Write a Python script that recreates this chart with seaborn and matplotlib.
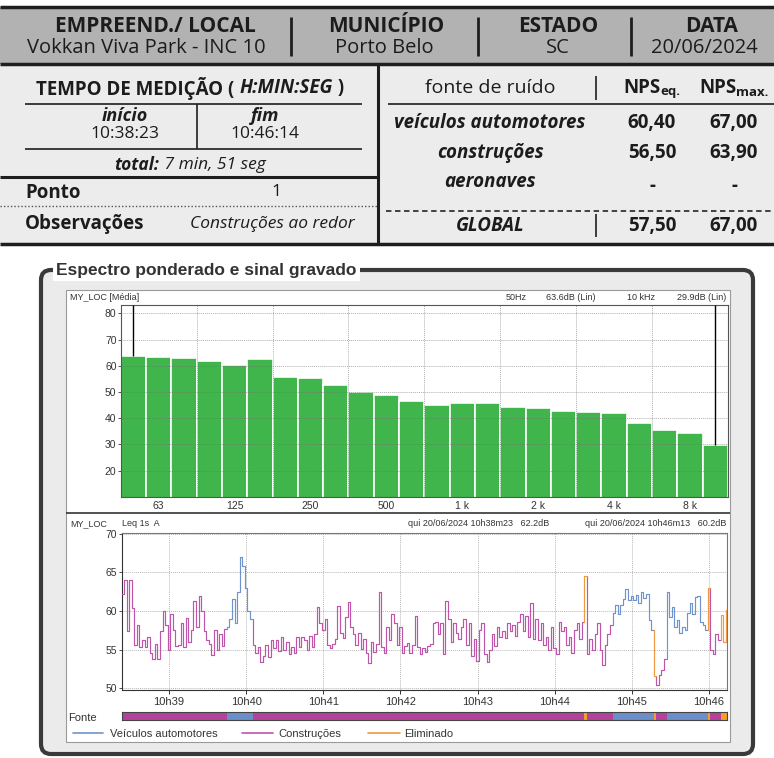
import numpy as np
import pandas as pd
import matplotlib
matplotlib.use("Agg")
import matplotlib.pyplot as plt
import seaborn as sns
from matplotlib.patches import Rectangle, FancyBboxPatch
from matplotlib.lines import Line2D

# ---------------- report table ----------------
header_titles = ["EMPREEND./ LOCAL", "MUNICÍPIO", "ESTADO", "DATA"]
header_values = ["Vokkan Viva Park - INC 10", "Porto Belo", "SC", "20/06/2024"]
start_time = "10:38:23"
end_time = "10:46:14"
point_id = "1"
observations = "Construções ao redor"
noise_sources = ["veículos automotores", "construções", "aeronaves"]
nps_eq = ["60,40", "56,50", "-"]
nps_max = ["67,00", "63,90", "-"]
global_eq = "57,50"
global_max = "67,00"

# ---------------- 1/3 octave spectrum ----------------
band_labels = ["50", "63", "80", "100", "125", "160", "200", "250", "315", "400",
               "500", "630", "800", "1 k", "1.25 k", "1.6 k", "2 k", "2.5 k",
               "3.15 k", "4 k", "5 k", "6.3 k", "8 k", "10 k"]
band_levels = [63.6, 63.4, 62.9, 61.9, 60.2, 62.5, 55.8, 55.4, 52.7, 49.8,
               48.7, 46.7, 45.0, 45.8, 45.8, 44.4, 44.0, 42.6, 42.2, 41.8,
               38.1, 35.5, 34.2, 29.9]
band_tick_labels = ["63", "125", "250", "500", "1 k", "2 k", "4 k", "8 k"]

# ---------------- Leq time history (2 s steps from 10h38m23) ----------------
leq_step = 2
leq_levels = [
    62.2, 64.0, 57.4, 64.0, 60.4, 55.6, 58.2, 55.4, 56.2, 55.3,
    56.6, 54.6, 53.8, 55.8, 53.8, 57.4, 60.0, 58.2, 55.0, 59.6,
    57.6, 55.5, 55.6, 58.5, 55.4, 59.1, 56.0, 57.6, 61.3, 58.0,
    61.9, 60.0, 57.4, 56.2, 55.8, 54.3, 57.6, 55.0, 57.0, 55.5,
    57.7, 58.0, 59.0, 61.5, 58.5, 62.5, 67.0, 65.8, 63.0, 60.0,
    59.0, 55.6, 54.6, 55.4, 53.4, 54.2, 55.6, 54.0, 56.3, 55.2,
    56.3, 54.8, 56.6, 55.0, 56.0, 54.5, 55.4, 54.6, 56.6, 55.3,
    56.6, 56.2, 55.0, 56.8, 55.4, 57.0, 60.5, 58.5, 57.6, 59.0,
    55.6, 55.2, 55.8, 56.4, 60.6, 57.2, 56.5, 59.2, 61.2, 58.0,
    57.0, 55.6, 57.2, 55.1, 56.4, 54.6, 53.3, 56.0, 54.7, 55.8,
    62.4, 55.4, 54.6, 58.0, 56.2, 59.6, 58.5, 55.6, 58.0, 54.6,
    55.5, 55.9, 54.6, 55.6, 59.3, 55.4, 54.4, 55.2, 54.7, 55.5,
    55.8, 58.4, 58.6, 57.0, 58.4, 54.5, 61.3, 59.0, 56.0, 58.5,
    57.2, 56.4, 58.0, 59.0, 55.6, 58.4, 54.2, 56.4, 53.5, 57.5,
    58.5, 54.4, 53.4, 55.0, 57.0, 55.5, 58.0, 56.6, 57.4, 56.5,
    58.5, 57.4, 58.2, 56.8, 58.6, 59.6, 57.4, 59.4, 56.6, 61.0,
    56.4, 59.0, 56.2, 58.4, 55.6, 56.6, 55.0, 58.0, 55.2, 54.5,
    58.6, 57.4, 58.0, 55.6, 56.6, 54.6, 57.6, 58.5, 56.4, 58.6,
    64.5, 54.4, 56.4, 55.0, 57.0, 58.4, 55.0, 53.0, 55.6, 57.0,
    58.2, 59.8, 60.8, 59.6, 60.8, 61.6, 62.9, 61.4, 62.0, 61.4,
    62.1, 61.0, 62.4, 61.7, 62.2, 58.8, 57.6, 51.6, 50.5, 51.8,
    52.4, 53.8, 62.4, 59.2, 60.5, 58.0, 58.8, 57.2, 58.0, 57.6,
    59.8, 61.0, 59.6, 61.8, 62.0, 58.6, 58.2, 57.6, 63.0, 55.0,
    54.4, 57.0, 56.2, 59.5, 56.0, 60.2,
]
leq_duration = 471
# source attributed to each stretch of the record (seconds from start)
source_spans = [
    (0, 82, "Construções"), (82, 102, "Veículos automotores"),
    (102, 360, "Construções"), (360, 362, "Eliminado"),
    (362, 382, "Construções"), (382, 414, "Veículos automotores"),
    (414, 416, "Eliminado"), (416, 424, "Construções"),
    (424, 456, "Veículos automotores"), (456, 458, "Eliminado"),
    (458, 466, "Construções"), (466, 471, "Eliminado"),
]
source_names = ["Veículos automotores", "Construções", "Eliminado"]
source_colors = {"Veículos automotores": "#6f93cc",
                 "Construções": "#bf55aa",
                 "Eliminado": "#ee9a3e"}
bar_colors = {"Veículos automotores": "#6c8fc9",
              "Construções": "#b5429a",
              "Eliminado": "#f29e28"}
time_ticks = ["10h39", "10h40", "10h41", "10h42", "10h43", "10h44", "10h45", "10h46"]

TABLE_FONT = ["Open Sans", "DejaVu Sans"]
CHART_FONT = ["Liberation Sans", "DejaVu Sans"]

sns.set_theme(style="white")
plt.rcParams["font.family"] = CHART_FONT

W, H = 774, 758
fig = plt.figure(figsize=(W / 100, H / 100), dpi=100)
fig.patch.set_facecolor("white")
bg = fig.add_axes([0, 0, 1, 1], zorder=0)
bg.set_xlim(0, W)
bg.set_ylim(H, 0)
bg.axis("off")
renderer = fig.canvas.get_renderer()
INK = "#1c1c1c"


def hline(y, x0, x1, lw=1.2, color="#1e1e1e", ls="-"):
    bg.plot([x0, x1], [y, y], color=color, lw=lw, ls=ls, solid_capstyle="butt", clip_on=False)


def vline(x, y0, y1, lw=1.2, color="#1e1e1e"):
    bg.plot([x, x], [y0, y1], color=color, lw=lw, solid_capstyle="butt", clip_on=False)


def ttext(x, y, s, size=12, weight="normal", style="normal", ha="center"):
    return bg.text(x, y, s, fontsize=size, fontweight=weight, fontstyle=style,
                   ha=ha, va="center", color=INK, family=TABLE_FONT)


def rich(xc, y, pieces, ha="center"):
    """pieces: (text, size, weight, style, dy)"""
    placed = []
    x = 0.0
    for s, size, weight, style, dy in pieces:
        t = bg.text(0, y + dy, s, fontsize=size, fontweight=weight, fontstyle=style,
                    ha="left", va="center", color=INK, family=TABLE_FONT)
        w = t.get_window_extent(renderer).width
        placed.append((t, x))
        x += w
    off = xc - x / 2 if ha == "center" else xc
    for t, x0 in placed:
        t.set_x(x0 + off)


# ---- table ----
bg.add_patch(Rectangle((0, 7), W, 57, fc="#b2b2b2", ec="none"))
bg.add_patch(Rectangle((0, 64), W, 180, fc="#ececec", ec="none"))
hline(7, 0, W, lw=2.5)
hline(64, 0, W, lw=2.5)
hline(244, 0, W, lw=2.5)
vline(378, 64, 244, lw=2.2)
hline(177, 0, 378, lw=2.2)
for xd in (291, 478, 631):
    vline(xd, 17, 56, lw=2)

head_x = [155, 386, 558, 712]
val_x = [146, 384, 558, 704]
for i in range(4):
    ttext(head_x[i], 27, header_titles[i], size=15, weight="bold")
    ttext(val_x[i], 48, header_values[i], size=14.5)

rich(190, 88, [("TEMPO DE MEDIÇÃO ( ", 13.5, "bold", "normal", 0),
               ("H:MIN:SEG", 13.5, "bold", "italic", 0),
               (" )", 13.5, "bold", "normal", 0)])
hline(104, 25, 362)
hline(149, 25, 362)
vline(197, 104, 149)
ttext(125, 116, "início", size=13, weight="bold", style="italic")
ttext(265, 116, "fim", size=13, weight="bold", style="italic")
ttext(125, 134, start_time, size=12.5)
ttext(265, 134, end_time, size=12.5)
h0, m0, s0 = map(int, start_time.split(":"))
h1, m1, s1 = map(int, end_time.split(":"))
dur = (h1 * 3600 + m1 * 60 + s1) - (h0 * 3600 + m0 * 60 + s0)
rich(190, 165, [("total:", 12.5, "bold", "italic", 0),
                (f" {dur // 60} min, {dur % 60} seg", 12.5, "normal", "italic", 0)])
ttext(25, 193, "Ponto", size=13.5, weight="bold", ha="left")
ttext(276, 192, point_id, size=12.5)
hline(206, 0, 378, lw=1.0, color="#555555", ls=(0, (1, 1.5)))
ttext(25, 224, "Observações", size=13.5, weight="bold", ha="left")
ttext(272, 224, observations, size=12.5, style="italic")

ttext(490, 88, "fonte de ruído", size=14)
rich(652, 88, [("NPS", 13.5, "bold", "normal", 0), ("eq.", 9.5, "bold", "normal", 4)])
rich(734, 88, [("NPS", 13.5, "bold", "normal", 0), ("max.", 9.5, "bold", "normal", 4)])
vline(596, 76, 100)
vline(596, 214, 237)
hline(104, 388, W)
row_y = [123, 153, 182]
for i, name in enumerate(noise_sources):
    ttext(490, row_y[i], name, size=13.5, weight="bold", style="italic")
    ttext(652, row_y[i] + (4 if nps_eq[i] == "-" else 0), nps_eq[i], size=13.5, weight="bold")
    ttext(734, row_y[i] + (4 if nps_max[i] == "-" else 0), nps_max[i], size=13.5, weight="bold")
hline(211, 386, W, lw=1.3, color="#333333", ls=(0, (3, 2)))
ttext(490, 226, "GLOBAL", size=13.5, weight="bold", style="italic")
ttext(652, 226, global_eq, size=13.5, weight="bold")
ttext(734, 226, global_max, size=13.5, weight="bold")

# ---- framed chart section ----
bg.add_patch(FancyBboxPatch((41, 270), 712, 484, boxstyle="round,pad=0,rounding_size=10",
                            lw=3, ec="#3a3a3a", fc="#ebebeb", clip_on=False))
bg.add_patch(Rectangle((66, 290), 664, 452, fc="white", ec="#9a9a9a", lw=0.8))
hline(513, 66, 730, lw=1.2, color="#333333")
bg.text(56, 270, "Espectro ponderado e sinal gravado", fontsize=12.5, fontweight="bold",
        color="#333333", ha="left", va="center", family=CHART_FONT,
        bbox=dict(fc="white", ec="none", pad=2.5))

# ---- spectrum ----
ax1 = fig.add_axes([120.7 / W, 1 - 496.7 / H, (728 - 120.7) / W, (496.7 - 305) / H], zorder=2)
df_bands = pd.DataFrame({"band": band_labels, "level": band_levels})
sns.barplot(data=df_bands, x="band", y="level", color="#3fb54b", saturation=1,
            width=1, edgecolor="white", linewidth=1.2, ax=ax1)
ymax1 = 83.2
ax1.set_xlim(-0.5, len(band_labels) - 0.5)
ax1.set_ylim(10, ymax1)
grid_style = dict(color="#707070", lw=0.7, ls=(0, (1, 1)), alpha=0.55, zorder=3)
for yv in range(20, 90, 10):
    ax1.axhline(yv, **grid_style)
for xv in np.arange(2.5, len(band_labels) - 1, 3):
    ax1.axvline(xv, **grid_style)
# cursors on first and last band
for idx in (0, len(band_labels) - 1):
    ax1.vlines(idx, band_levels[idx], ymax1, color="black", lw=1.0, zorder=4)
ax1.set_xticks([band_labels.index(b) for b in band_tick_labels])
ax1.set_xticklabels(band_tick_labels)
ax1.set_yticks(range(20, 90, 10))
ax1.set_xlabel("")
ax1.set_ylabel("")
ax1.tick_params(axis="x", direction="in", length=3, width=0.7, labelsize=7.5, pad=3,
                colors="#333333", bottom=True)
ax1.tick_params(axis="y", direction="out", length=2, width=0.6, labelsize=7.5, pad=1,
                colors="#333333", left=True)
for s in ax1.spines.values():
    s.set_color("#555555")
    s.set_linewidth(0.8)

hdr = dict(fontsize=6.5, color="#333333", va="center", family=CHART_FONT)
bg.text(70, 297, "MY_LOC [Média]", ha="left", **hdr)
bg.text(506, 297, f"{band_labels[0]}Hz", ha="left", **hdr)
bg.text(596, 297, f"{band_levels[0]:.1f}dB (Lin)", ha="right", **hdr)
bg.text(627, 297, f"{band_labels[-1]}Hz", ha="left", **hdr)
bg.text(726, 297, f"{band_levels[-1]:.1f}dB (Lin)", ha="right", **hdr)

# ---- Leq time history ----
times = np.arange(len(leq_levels)) * leq_step
rows = []
for seg, (t0, t1, src) in enumerate(source_spans):
    idx = [i for i, t in enumerate(times) if t0 <= t < t1]
    if seg > 0:
        rows.append((t0, leq_levels[idx[0] - 1], src, seg))
    for i in idx:
        rows.append((times[i], leq_levels[i], src, seg))
    rows.append((t1, leq_levels[idx[-1]], src, seg))
df_leq = pd.DataFrame(rows, columns=["t", "level", "source", "seg"])

ax2 = fig.add_axes([121.5 / W, 1 - 690 / H, (727 - 121.5) / W, (690 - 533.3) / H], zorder=2)
sns.lineplot(data=df_leq, x="t", y="level", hue="source", units="seg", estimator=None,
             palette=source_colors, drawstyle="steps-post", linewidth=0.85, sort=False,
             legend=False, ax=ax2, zorder=3)
ax2.set_xlim(0, leq_duration)
ax2.set_ylim(49.8, 70.05)
start_s = h0 * 3600 + m0 * 60 + s0
tick_pos = [int(lbl[:2]) * 3600 + int(lbl[3:]) * 60 - start_s for lbl in time_ticks]
ax2.set_xticks(tick_pos)
ax2.set_xticklabels(time_ticks)
ax2.set_yticks([50, 55, 60, 65, 70])
ax2.set_xlabel("")
ax2.set_ylabel("")
ax2.grid(True, color="#9a9a9a", lw=0.7, ls=(0, (1, 1)), alpha=0.7)
ax2.tick_params(axis="x", direction="out", length=3, width=0.7, labelsize=8, pad=2,
                colors="#333333", bottom=True)
ax2.tick_params(axis="y", direction="out", length=2, width=0.6, labelsize=7.5, pad=1,
                colors="#333333", left=True)
for s in ax2.spines.values():
    s.set_color("#777777")
    s.set_linewidth(0.8)
ax2.spines["bottom"].set_color("#333333")
ax2.spines["left"].set_color("#333333")

end_rec = leq_duration - 1
bg.text(70, 524, "MY_LOC", ha="left", **hdr)
bg.text(122, 524, "Leq 1s  A", ha="left", **hdr)
bg.text(549, 524, f"qui 20/06/2024 10h{m0:02d}m{s0:02d}   {leq_levels[0]:.1f}dB", ha="right", **hdr)
em = (start_s + end_rec) % 3600
bg.text(726, 524, f"qui 20/06/2024 10h{em // 60:02d}m{em % 60:02d}   {leq_levels[-1]:.1f}dB",
        ha="right", **hdr)

# ---- source strip ----
ax3 = fig.add_axes([121.5 / W, 1 - 720 / H, (727 - 121.5) / W, 8.5 / H], zorder=2)
for t0, t1, src in source_spans:
    ax3.broken_barh([(t0, t1 - t0)], (0, 1), facecolors=bar_colors[src], edgecolor="none")
ax3.set_xlim(0, leq_duration)
ax3.set_ylim(0, 1)
ax3.set_xticks([])
ax3.set_yticks([])
for s in ax3.spines.values():
    s.set_color("#444444")
    s.set_linewidth(0.8)
bg.text(68, 718, "Fonte", fontsize=8, color="#333333", ha="left", va="center", family=CHART_FONT)

# ---- legend ----
leg_x = [(73, 103, 110), (242, 273, 278), (368, 400, 404)]
for (xa, xb, xt), name in zip(leg_x, source_names):
    bg.add_line(Line2D([xa, xb], [733, 733], color=source_colors[name], lw=1.2))
    bg.text(xt, 734, name, fontsize=8, color="#333333", ha="left", va="center", family=CHART_FONT)

fig.savefig("out.png", dpi=100, facecolor="white")
